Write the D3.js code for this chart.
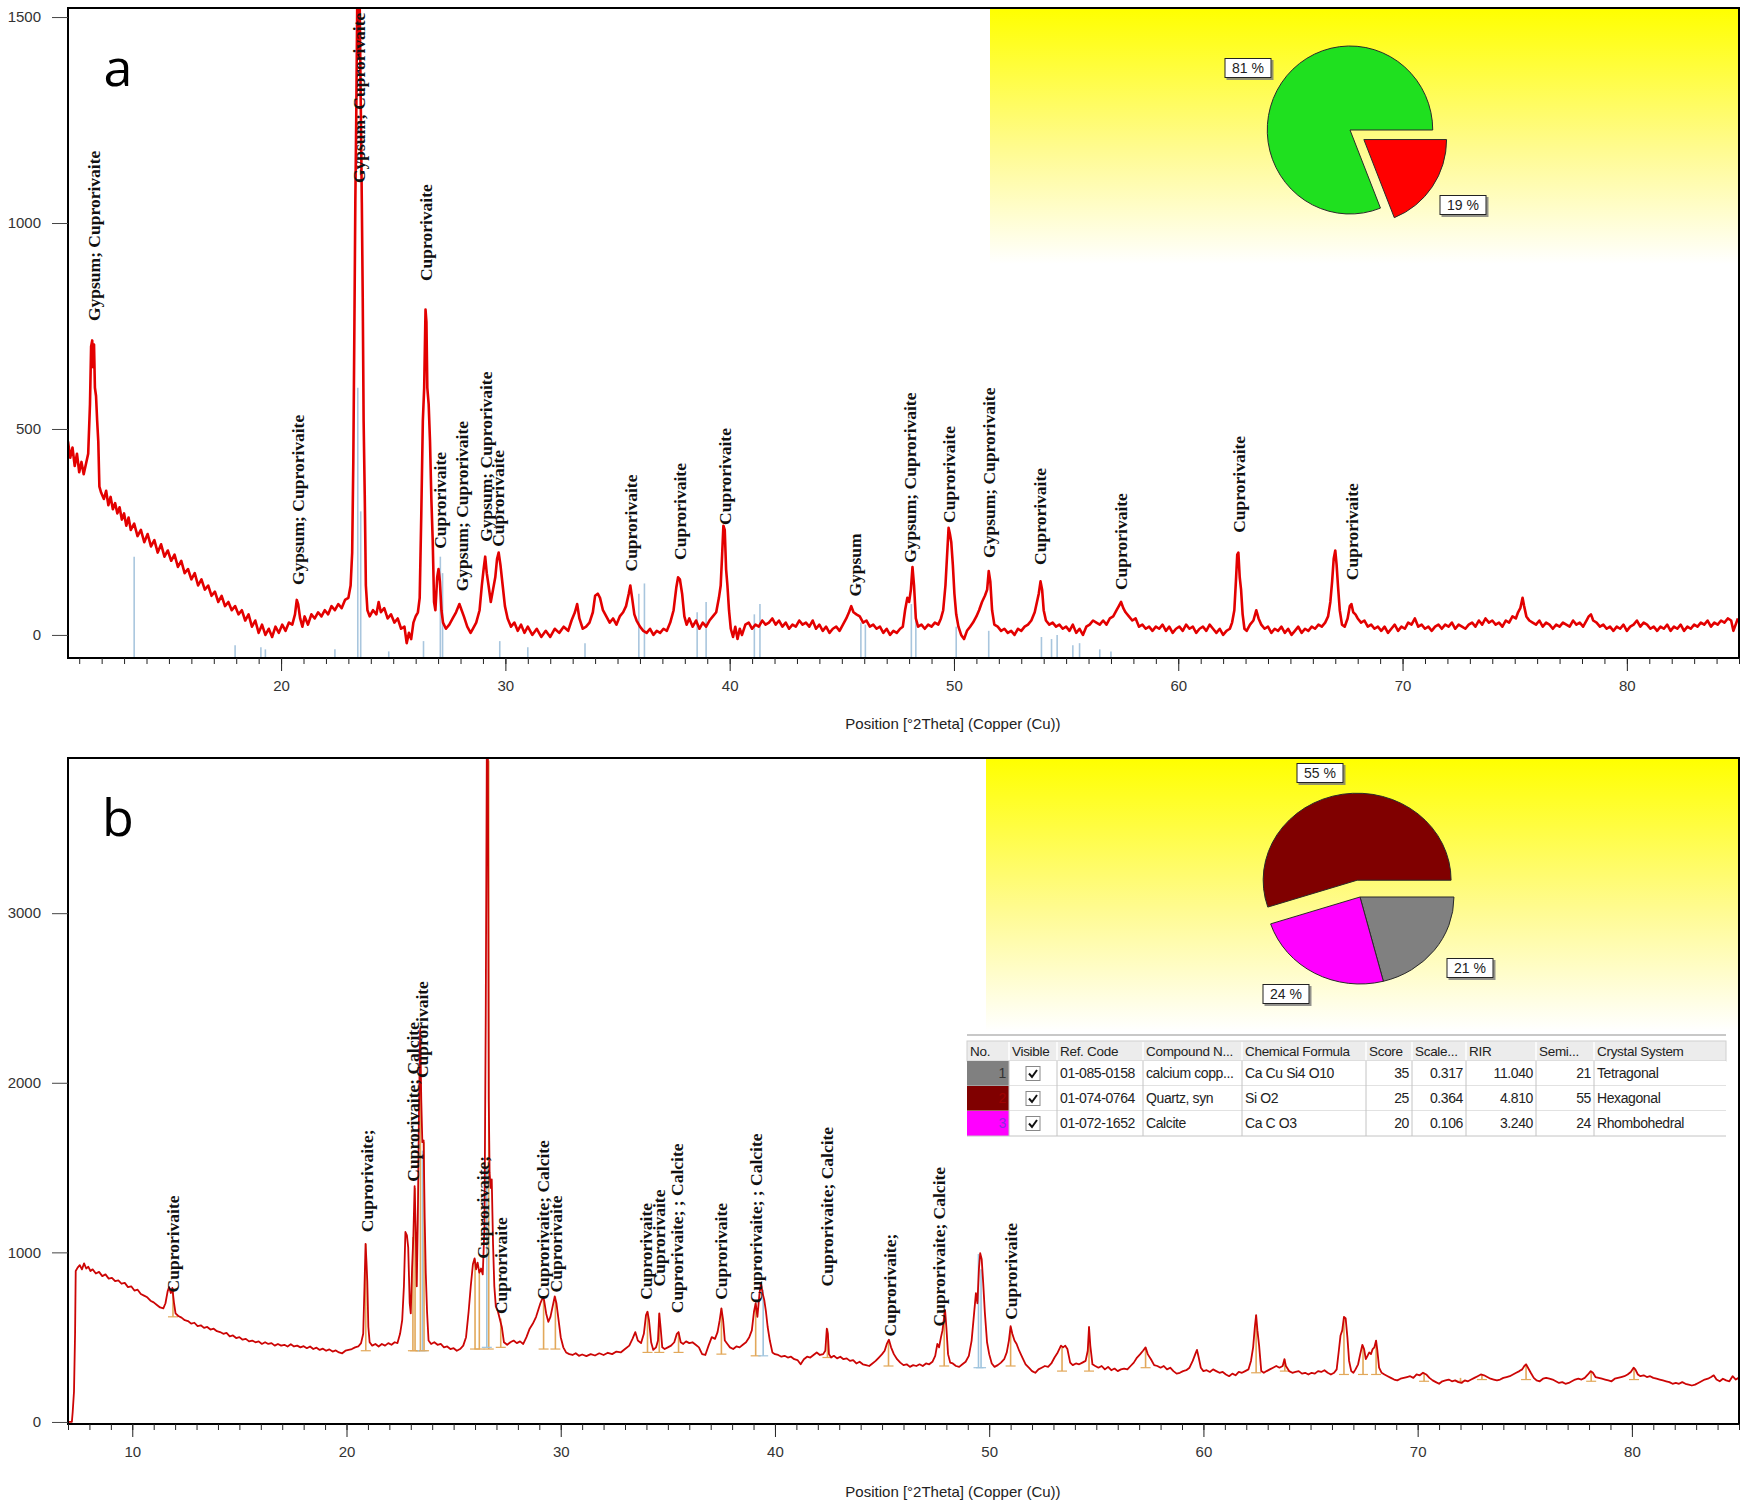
<!DOCTYPE html>
<html>
<head>
<meta charset="utf-8">
<script src="https://cdn.jsdelivr.net/npm/d3@7"></script>
<style>
  body { margin: 0; background: #fff; }
  text { font-family: "Liberation Sans", Arial, sans-serif; }
</style>
</head>
<body>
<svg id="chart"></svg>
<script>
// ---- data ----

// panel a : [2theta, counts]
var scanA = [
[10.50,470],[10.60,430],[10.70,455],[10.80,410],[10.90,440],[11.00,395],[11.10,420],[11.20,390],[11.30,415],[11.40,440],[11.48,560],[11.53,700],[11.58,715],[11.62,650],[11.66,705],[11.70,600],[11.75,580],[11.80,520],[11.85,470],[11.90,360],[11.98,345],[12.10,330],[12.20,350],[12.30,315],[12.40,335],[12.50,305],[12.60,320],[12.70,295],[12.80,310],[12.90,280],[13.00,295],[13.10,265],[13.20,285],[13.30,255],[13.45,270],[13.60,240],[13.75,255],[13.90,225],[14.05,245],[14.20,215],[14.35,230],[14.50,200],[14.65,220],[14.80,190],[14.95,205],[15.10,180],[15.25,195],[15.40,165],[15.55,180],[15.70,150],[15.85,160],[16.00,135],[16.15,150],[16.30,120],[16.45,135],[16.60,110],[16.75,120],[16.90,95],[17.05,105],[17.20,80],[17.35,95],[17.50,70],[17.65,80],[17.80,60],[17.95,70],[18.10,50],[18.25,60],[18.40,35],[18.55,50],[18.70,20],[18.85,35],[19.00,5],[19.15,25],[19.30,0],[19.45,15],[19.60,-5],[19.75,20],[19.90,5],[20.05,25],[20.20,10],[20.35,30],[20.50,25],[20.62,50],[20.70,85],[20.76,75],[20.85,40],[20.95,20],[21.05,45],[21.20,25],[21.35,50],[21.50,40],[21.65,55],[21.80,45],[21.95,60],[22.10,50],[22.25,70],[22.40,60],[22.55,75],[22.70,65],[22.85,85],[23.00,90],[23.10,120],[23.17,200],[23.22,420],[23.27,760],[23.31,1050],[23.35,1250],[23.40,1560],[23.45,1400],[23.50,1560],[23.55,1300],[23.60,1050],[23.64,820],[23.68,520],[23.73,340],[23.78,120],[23.85,60],[23.95,45],[24.10,60],[24.25,50],[24.35,80],[24.45,55],[24.60,65],[24.75,40],[24.90,50],[25.05,30],[25.20,40],[25.35,15],[25.50,20],[25.60,-20],[25.70,5],[25.80,-10],[25.90,30],[26.00,45],[26.10,55],[26.18,90],[26.25,290],[26.32,520],[26.38,600],[26.44,790],[26.48,760],[26.52,600],[26.58,560],[26.64,470],[26.70,330],[26.76,230],[26.82,80],[26.88,60],[26.96,140],[27.02,160],[27.08,130],[27.15,60],[27.22,30],[27.35,15],[27.50,25],[27.65,40],[27.80,55],[27.95,75],[28.05,60],[28.15,45],[28.30,20],[28.45,5],[28.55,15],[28.70,30],[28.85,60],[28.95,120],[29.03,160],[29.10,190],[29.17,150],[29.25,120],[29.35,80],[29.45,110],[29.55,140],[29.63,185],[29.70,200],[29.78,170],[29.88,120],[29.98,70],[30.10,40],[30.25,20],[30.40,30],[30.55,10],[30.70,25],[30.85,5],[31.00,20],[31.20,0],[31.40,15],[31.60,-5],[31.80,10],[32.00,-5],[32.20,15],[32.40,5],[32.60,20],[32.80,10],[32.95,35],[33.10,55],[33.20,75],[33.30,40],[33.45,15],[33.60,20],[33.75,30],[33.90,55],[34.00,95],[34.12,100],[34.22,90],[34.35,60],[34.50,45],[34.65,30],[34.80,40],[34.95,25],[35.10,45],[35.25,55],[35.38,70],[35.50,100],[35.57,120],[35.65,90],[35.75,50],[35.85,35],[36.00,20],[36.15,10],[36.30,5],[36.45,15],[36.60,0],[36.75,10],[36.90,5],[37.05,15],[37.20,10],[37.35,30],[37.50,60],[37.62,115],[37.70,140],[37.78,135],[37.88,100],[37.98,45],[38.08,25],[38.20,40],[38.35,20],[38.50,35],[38.65,15],[38.80,30],[38.95,20],[39.10,35],[39.25,45],[39.40,55],[39.52,90],[39.60,120],[39.66,190],[39.72,265],[39.78,255],[39.84,160],[39.90,120],[39.97,60],[40.05,15],[40.15,-5],[40.25,20],[40.35,-10],[40.45,15],[40.55,0],[40.70,25],[40.85,30],[41.00,15],[41.15,25],[41.30,20],[41.45,35],[41.60,25],[41.75,30],[41.90,40],[42.05,25],[42.20,35],[42.35,20],[42.50,30],[42.65,15],[42.80,25],[42.95,20],[43.10,35],[43.25,25],[43.40,30],[43.55,20],[43.70,35],[43.85,15],[44.00,25],[44.15,10],[44.30,20],[44.45,5],[44.60,15],[44.75,20],[44.90,10],[45.05,25],[45.20,40],[45.32,55],[45.42,70],[45.52,55],[45.65,50],[45.80,45],[45.95,30],[46.10,35],[46.25,20],[46.40,25],[46.55,15],[46.70,20],[46.85,5],[47.00,15],[47.15,0],[47.30,10],[47.45,5],[47.60,15],[47.72,20],[47.82,60],[47.92,90],[48.00,80],[48.08,110],[48.15,165],[48.22,120],[48.30,40],[48.40,20],[48.55,25],[48.70,15],[48.85,25],[49.00,20],[49.15,30],[49.30,25],[49.42,40],[49.52,60],[49.62,120],[49.70,200],[49.76,260],[49.82,245],[49.88,225],[49.95,170],[50.02,100],[50.10,50],[50.20,20],[50.32,0],[50.45,-10],[50.58,10],[50.72,20],[50.85,30],[51.00,45],[51.12,60],[51.25,80],[51.38,95],[51.48,110],[51.55,155],[51.62,130],[51.70,60],[51.80,25],[51.95,20],[52.10,10],[52.25,15],[52.40,5],[52.55,10],[52.70,0],[52.85,15],[53.00,10],[53.15,20],[53.30,25],[53.45,35],[53.60,55],[53.70,80],[53.78,100],[53.86,130],[53.93,110],[54.00,60],[54.10,35],[54.25,25],[54.40,30],[54.55,20],[54.70,25],[54.85,15],[55.00,20],[55.15,10],[55.30,25],[55.45,5],[55.60,15],[55.75,0],[55.90,20],[56.05,25],[56.20,35],[56.35,30],[56.50,25],[56.65,35],[56.80,25],[56.95,40],[57.10,45],[57.25,60],[57.35,70],[57.45,80],[57.55,65],[57.65,55],[57.80,45],[57.95,35],[58.10,40],[58.25,20],[58.40,25],[58.55,15],[58.70,20],[58.85,10],[59.00,20],[59.15,15],[59.30,25],[59.45,10],[59.60,20],[59.75,5],[59.90,15],[60.05,20],[60.20,10],[60.35,25],[60.50,15],[60.65,20],[60.80,5],[60.95,15],[61.10,20],[61.25,10],[61.40,25],[61.55,15],[61.70,5],[61.85,15],[62.00,0],[62.15,10],[62.30,15],[62.40,30],[62.50,60],[62.57,130],[62.63,195],[62.68,200],[62.74,140],[62.80,110],[62.87,50],[62.95,15],[63.05,10],[63.20,25],[63.35,35],[63.48,60],[63.58,40],[63.70,25],[63.85,15],[64.00,20],[64.15,5],[64.30,15],[64.45,10],[64.60,20],[64.75,5],[64.90,15],[65.05,0],[65.20,10],[65.35,20],[65.50,5],[65.65,15],[65.80,10],[65.95,20],[66.10,15],[66.25,25],[66.40,20],[66.55,30],[66.68,45],[66.78,80],[66.86,130],[66.93,185],[67.00,205],[67.06,170],[67.12,120],[67.20,60],[67.30,25],[67.42,20],[67.55,40],[67.65,70],[67.72,75],[67.80,55],[67.90,50],[68.00,40],[68.15,30],[68.30,35],[68.45,20],[68.60,25],[68.75,15],[68.90,20],[69.05,10],[69.20,20],[69.35,5],[69.50,15],[69.65,25],[69.80,10],[69.95,20],[70.10,15],[70.25,30],[70.40,25],[70.55,40],[70.70,20],[70.85,25],[71.00,15],[71.15,20],[71.30,10],[71.45,20],[71.60,25],[71.75,15],[71.90,25],[72.05,20],[72.20,30],[72.35,15],[72.50,25],[72.65,20],[72.80,15],[72.95,25],[73.10,30],[73.25,20],[73.40,35],[73.55,25],[73.70,40],[73.85,30],[74.00,35],[74.15,25],[74.30,30],[74.45,20],[74.60,35],[74.75,30],[74.90,45],[75.05,40],[75.15,55],[75.25,65],[75.35,90],[75.42,70],[75.52,45],[75.65,35],[75.80,30],[75.95,25],[76.10,35],[76.25,20],[76.40,30],[76.55,25],[76.70,15],[76.85,25],[77.00,20],[77.15,30],[77.30,25],[77.45,20],[77.60,35],[77.75,25],[77.90,30],[78.05,20],[78.20,35],[78.30,45],[78.40,50],[78.50,35],[78.65,30],[78.80,20],[78.95,25],[79.10,15],[79.25,20],[79.40,10],[79.55,20],[79.70,15],[79.85,25],[80.00,10],[80.15,20],[80.30,25],[80.45,35],[80.60,20],[80.75,30],[80.90,25],[81.05,15],[81.20,20],[81.35,10],[81.50,20],[81.65,15],[81.80,25],[81.95,10],[82.10,20],[82.25,15],[82.40,25],[82.55,10],[82.70,20],[82.85,15],[83.00,25],[83.15,20],[83.30,30],[83.45,25],[83.60,35],[83.75,20],[83.90,30],[84.05,25],[84.20,35],[84.35,30],[84.50,40],[84.65,35],[84.75,10],[84.85,25],[84.95,40]
];

// panel a : reference sticks [2theta, top counts]
var sticksA = [
[13.45,190],[17.95,-25],[19.10,-30],[19.30,-35],[22.40,-35],[23.42,600],[23.55,300],[24.80,-40],[26.35,-15],
[27.10,190],[27.20,150],[29.75,-15],[31.00,-30],[33.55,-20],[35.95,100],[36.20,125],[38.55,55],[38.95,80],
[41.10,50],[41.35,75],[45.85,30],[46.05,25],[48.10,75],[48.30,40],[50.10,20],[51.55,10],[53.90,-5],
[54.35,-10],[54.60,0],[55.30,-25],[55.60,-20],[56.50,-35],[57.00,-40]
];

// panel a : peak labels [2theta, counts at label foot, text]
var labelsA = [
[11.66,762,"Gypsum; Cuprorivaite"],[20.75,121,"Gypsum; Cuprorivaite"],[23.47,1097,"Gypsum; Cuprorivaite"],
[26.49,859,"Cuprorivaite"],[27.09,209,"Cuprorivaite"],[28.06,106,"Gypsum; Cuprorivaite"],
[29.13,226,"Gypsum; Cuprorivaite"],[29.70,214,"Cuprorivaite"],[35.60,154,"Cuprorivaite"],
[37.80,182,"Cuprorivaite"],[39.78,267,"Cuprorivaite"],[45.60,93,"Gypsum"],
[48.03,175,"Gypsum; Cuprorivaite"],[49.78,272,"Cuprorivaite"],[51.58,187,"Gypsum; Cuprorivaite"],
[53.86,170,"Cuprorivaite"],[57.45,109,"Cuprorivaite"],[62.70,248,"Cuprorivaite"],[67.76,133,"Cuprorivaite"]
];

// panel b : [2theta, counts]
var scanB = [
[7.00,0],[7.10,0],[7.18,0],[7.22,60],[7.28,180],[7.33,520],[7.36,890],[7.45,910],[7.55,925],[7.65,900],[7.75,935],[7.85,905],[7.95,915],[8.05,890],[8.15,900],[8.30,875],[8.45,885],[8.60,860],[8.75,870],[8.90,845],[9.05,850],[9.20,830],[9.35,835],[9.50,815],[9.65,820],[9.80,795],[9.95,800],[10.10,775],[10.25,780],[10.40,755],[10.55,745],[10.70,735],[10.85,715],[11.00,705],[11.15,690],[11.30,675],[11.45,670],[11.55,700],[11.65,770],[11.72,795],[11.80,760],[11.87,790],[11.95,700],[12.02,640],[12.15,625],[12.30,615],[12.45,600],[12.60,595],[12.75,580],[12.90,585],[13.05,565],[13.20,570],[13.35,555],[13.50,560],[13.65,545],[13.80,550],[13.95,535],[14.10,530],[14.25,520],[14.40,525],[14.55,505],[14.70,510],[14.85,495],[15.00,500],[15.15,485],[15.30,490],[15.45,475],[15.60,480],[15.75,470],[15.90,475],[16.05,460],[16.20,470],[16.35,460],[16.50,465],[16.65,450],[16.80,460],[16.95,450],[17.10,455],[17.25,445],[17.40,458],[17.55,445],[17.70,450],[17.85,440],[18.00,447],[18.15,435],[18.30,445],[18.45,430],[18.60,438],[18.75,425],[18.90,432],[19.05,420],[19.20,428],[19.35,415],[19.50,422],[19.65,410],[19.80,405],[19.95,420],[20.10,425],[20.25,430],[20.40,440],[20.55,445],[20.68,465],[20.78,520],[20.84,800],[20.89,1050],[20.93,950],[20.97,830],[21.02,560],[21.08,470],[21.20,450],[21.35,460],[21.50,445],[21.65,460],[21.80,450],[21.95,465],[22.10,455],[22.25,470],[22.38,465],[22.50,520],[22.60,600],[22.68,800],[22.75,1120],[22.82,1100],[22.88,1030],[22.95,700],[23.00,640],[23.06,900],[23.12,1090],[23.18,1390],[23.23,1150],[23.28,800],[23.33,1200],[23.38,1800],[23.44,2320],[23.49,1900],[23.54,1650],[23.60,1660],[23.65,1200],[23.70,880],[23.76,650],[23.83,480],[23.95,460],[24.10,470],[24.25,455],[24.40,460],[24.55,440],[24.70,445],[24.85,430],[25.00,435],[25.15,420],[25.30,430],[25.45,450],[25.58,500],[25.70,650],[25.80,800],[25.90,930],[25.98,965],[26.05,900],[26.12,940],[26.20,880],[26.28,905],[26.36,870],[26.44,1150],[26.50,2400],[26.55,3960],[26.60,3960],[26.64,1900],[26.68,1470],[26.73,1380],[26.78,1430],[26.84,1050],[26.90,800],[26.97,680],[27.05,660],[27.15,610],[27.25,560],[27.35,470],[27.50,455],[27.65,470],[27.80,480],[27.95,465],[28.10,475],[28.25,460],[28.40,500],[28.55,550],[28.70,580],[28.85,620],[28.95,660],[29.05,700],[29.15,730],[29.22,720],[29.32,640],[29.42,590],[29.52,620],[29.62,680],[29.72,740],[29.80,700],[29.90,600],[30.00,500],[30.12,440],[30.25,410],[30.40,400],[30.55,395],[30.70,405],[30.85,390],[31.00,398],[31.20,388],[31.40,400],[31.60,392],[31.80,405],[32.00,395],[32.20,408],[32.40,400],[32.60,415],[32.80,410],[33.00,430],[33.20,450],[33.35,490],[33.48,530],[33.60,480],[33.75,465],[33.88,520],[33.98,630],[34.05,650],[34.12,600],[34.22,470],[34.32,425],[34.45,440],[34.54,480],[34.60,640],[34.66,560],[34.74,440],[34.85,430],[35.00,440],[35.15,450],[35.30,470],[35.42,520],[35.50,530],[35.60,470],[35.72,460],[35.85,475],[36.00,465],[36.15,470],[36.30,455],[36.45,440],[36.60,400],[36.75,395],[36.90,450],[37.05,500],[37.20,490],[37.32,530],[37.42,600],[37.50,670],[37.58,600],[37.66,480],[37.78,460],[37.90,440],[38.05,430],[38.20,445],[38.35,440],[38.50,455],[38.65,470],[38.80,500],[38.92,540],[39.02,650],[39.10,700],[39.18,620],[39.28,760],[39.35,820],[39.42,760],[39.50,720],[39.58,650],[39.66,560],[39.76,480],[39.88,410],[40.00,400],[40.15,395],[40.30,385],[40.45,390],[40.60,380],[40.75,385],[40.90,370],[41.05,365],[41.20,340],[41.35,370],[41.50,385],[41.65,380],[41.80,395],[41.95,410],[42.10,395],[42.25,400],[42.35,420],[42.42,550],[42.47,520],[42.52,400],[42.62,380],[42.75,390],[42.90,375],[43.05,385],[43.20,370],[43.35,375],[43.50,360],[43.65,365],[43.80,345],[43.95,355],[44.10,340],[44.25,335],[44.40,330],[44.55,345],[44.70,360],[44.85,380],[45.00,400],[45.12,420],[45.22,460],[45.32,485],[45.42,440],[45.55,400],[45.70,370],[45.85,350],[46.00,335],[46.15,340],[46.30,325],[46.45,335],[46.60,330],[46.75,340],[46.90,330],[47.05,345],[47.20,340],[47.35,355],[47.48,390],[47.58,460],[47.66,440],[47.75,500],[47.82,540],[47.88,600],[47.94,660],[48.00,560],[48.08,400],[48.18,350],[48.30,345],[48.45,330],[48.60,325],[48.75,340],[48.90,355],[49.05,390],[49.18,480],[49.28,620],[49.38,760],[49.45,700],[49.52,900],[49.58,995],[49.65,960],[49.72,820],[49.80,640],[49.90,470],[50.00,400],[50.12,345],[50.25,325],[50.40,335],[50.55,350],[50.70,370],[50.82,410],[50.92,480],[51.00,565],[51.08,520],[51.18,480],[51.28,460],[51.40,420],[51.55,380],[51.70,340],[51.85,320],[52.00,300],[52.15,290],[52.30,310],[52.45,320],[52.60,330],[52.75,325],[52.90,345],[53.05,380],[53.20,410],[53.35,450],[53.45,440],[53.55,450],[53.65,430],[53.78,350],[53.90,335],[54.05,345],[54.20,340],[54.35,350],[54.50,360],[54.60,420],[54.66,560],[54.72,450],[54.82,340],[54.95,330],[55.10,320],[55.25,330],[55.40,310],[55.55,325],[55.70,305],[55.85,315],[56.00,300],[56.15,310],[56.30,315],[56.45,310],[56.60,330],[56.75,350],[56.90,380],[57.05,400],[57.18,420],[57.30,440],[57.40,400],[57.55,370],[57.70,335],[57.85,330],[58.00,320],[58.15,330],[58.30,310],[58.45,320],[58.60,300],[58.75,285],[58.90,290],[59.05,300],[59.20,305],[59.35,320],[59.50,360],[59.62,400],[59.70,425],[59.78,380],[59.88,320],[60.00,300],[60.15,305],[60.30,295],[60.45,310],[60.60,300],[60.75,290],[60.90,295],[61.05,280],[61.20,270],[61.35,285],[61.50,275],[61.65,295],[61.80,290],[61.95,300],[62.10,310],[62.22,360],[62.32,440],[62.40,560],[62.46,630],[62.52,540],[62.60,450],[62.70,300],[62.82,290],[62.95,300],[63.10,310],[63.25,320],[63.40,330],[63.55,320],[63.70,330],[63.78,370],[63.85,330],[64.00,300],[64.15,290],[64.30,295],[64.45,300],[64.60,285],[64.75,290],[64.90,280],[65.05,290],[65.20,285],[65.35,300],[65.50,295],[65.65,305],[65.80,290],[65.95,280],[66.10,290],[66.22,310],[66.32,420],[66.40,510],[66.48,540],[66.56,620],[66.64,610],[66.72,500],[66.80,360],[66.90,300],[67.00,290],[67.10,310],[67.22,340],[67.32,400],[67.42,455],[67.50,430],[67.58,370],[67.66,390],[67.74,410],[67.82,400],[67.90,430],[67.98,440],[68.06,480],[68.12,420],[68.20,320],[68.32,290],[68.45,280],[68.60,270],[68.75,260],[68.90,250],[69.05,245],[69.20,255],[69.35,260],[69.50,265],[69.65,270],[69.80,260],[69.95,280],[70.10,275],[70.25,290],[70.40,280],[70.55,260],[70.70,245],[70.85,235],[71.00,225],[71.15,240],[71.30,245],[71.45,250],[71.60,240],[71.75,245],[71.90,235],[72.05,230],[72.20,245],[72.35,240],[72.50,250],[72.65,260],[72.80,270],[72.95,280],[73.10,275],[73.25,265],[73.40,255],[73.55,250],[73.70,245],[73.85,250],[74.00,260],[74.15,265],[74.30,270],[74.45,280],[74.60,290],[74.75,300],[74.88,310],[74.98,330],[75.06,340],[75.15,320],[75.28,290],[75.42,260],[75.55,245],[75.70,240],[75.85,255],[76.00,260],[76.15,255],[76.30,250],[76.45,240],[76.60,230],[76.75,235],[76.90,225],[77.05,230],[77.20,240],[77.35,250],[77.50,255],[77.65,250],[77.80,260],[77.95,280],[78.08,300],[78.18,290],[78.30,265],[78.45,260],[78.60,255],[78.75,250],[78.90,245],[79.05,240],[79.20,255],[79.35,260],[79.50,265],[79.65,270],[79.80,280],[79.95,295],[80.08,320],[80.16,310],[80.28,280],[80.40,270],[80.55,275],[80.70,265],[80.85,270],[81.00,260],[81.15,255],[81.30,250],[81.45,245],[81.60,240],[81.75,235],[81.90,225],[82.05,230],[82.20,225],[82.35,235],[82.50,225],[82.65,220],[82.80,215],[82.95,220],[83.10,230],[83.25,240],[83.40,250],[83.55,255],[83.70,265],[83.82,275],[83.95,250],[84.10,240],[84.25,255],[84.40,245],[84.55,240],[84.70,270],[84.85,250],[84.98,260]
];

// panel b : peak markers [2theta, base counts, top counts, kind] kind 0 = peak list, 1 = reference
var sticksB = [
[11.90,620,790,0],[20.90,420,1050,0],[23.10,420,1090,0],[23.20,420,1380,0],[23.45,420,2300,0],[23.55,420,1600,1],
[23.62,420,1650,0],[26.00,430,960,0],[26.20,430,900,0],[26.55,440,1500,1],[26.64,430,3900,0],[27.20,440,610,0],
[29.20,430,730,0],[29.75,430,740,0],[34.05,410,650,0],[34.60,410,640,0],[35.50,410,530,0],[37.50,400,670,0],
[39.10,390,700,0],[39.45,390,780,1],[42.45,380,550,0],[45.30,330,480,0],[47.90,330,650,0],[49.50,320,990,1],
[49.62,320,900,1],[51.00,330,560,0],[53.40,300,440,0],[54.66,300,560,0],[57.30,320,430,0],[62.46,290,630,0],
[63.80,300,370,0],[66.56,280,620,0],[67.45,280,450,0],[68.06,280,480,0],[70.30,240,290,0],[72.00,240,260,0],
[73.00,250,280,0],[75.06,250,340,0],[78.10,240,300,0],[80.10,250,320,0]
];

// panel b : peak labels [2theta, counts at label foot, text]
var labelsB = [
[11.92,764,"Cuprorivaite"],[20.96,1119,"Cuprorivaite;"],[23.12,1417,"Cuprorivaite; Calcite"],
[23.54,2028,"Cuprorivaite"],[26.36,963,"Cuprorivaite;"],[27.20,636,"Cuprorivaite"],
[29.18,721,"Cuprorivaite; Calcite"],[29.81,764,"Cuprorivaite"],[34.00,720,"Cuprorivaite"],
[34.62,799,"Cuprorivaite"],[35.45,641,"Cuprorivaite; ; Calcite"],[37.50,720,"Cuprorivaite"],
[39.13,700,"Cuprorivaite; ; Calcite"],[42.44,799,"Cuprorivaite; Calcite"],[45.40,504,"Cuprorivaite;"],
[47.66,563,"Cuprorivaite; Calcite"],[51.04,602,"Cuprorivaite"]
];

// axes
var majorTicksA = [20, 30, 40, 50, 60, 70, 80];
var majorTicksB = [10, 20, 30, 40, 50, 60, 70, 80];
var yTicksA = [0, 500, 1000, 1500];
var yTicksB = [0, 1000, 2000, 3000];
var xTitle = "Position [\u00b02Theta] (Copper (Cu))";

// phase fractions (pie a) in drawing order from 3 o'clock
var pieAValues = [19, 81];
var pieAColors = ["#ff0000", "#1fe01f"];
var pieALabels = ["19 %", "81 %"];

// identified phases (table + pie b)
var phaseNo = [1, 2, 3];
var phaseColors = ["#808080", "#800000", "#ff00ff"];
var phaseNoColors = ["#333333", "#a00000", "#8a2be2"];
var refCodes = ["01-085-0158", "01-074-0764", "01-072-1652"];
var compounds = ["calcium copp...", "Quartz, syn", "Calcite"];
var formulas = ["Ca Cu Si4 O10", "Si O2", "Ca C O3"];
var scores = [35, 25, 20];
var scaleFactors = ["0.317", "0.364", "0.106"];
var rirs = ["11.040", "4.810", "3.240"];
var semiQuant = [21, 55, 24];
var crystalSystems = ["Tetragonal", "Hexagonal", "Rhombohedral"];
var tableHeaders = ["No.", "Visible", "Ref. Code", "Compound N...", "Chemical Formula", "Score", "Scale...", "RIR", "Semi...", "Crystal System"];
var pieBOrder = [0, 2, 1];   // grey, magenta, brown clockwise from 3 o'clock

// ---- drawing ----
var W = 1748, H = 1502;
var svg = d3.select('#chart').attr('width', W).attr('height', H);
var defs = svg.append('defs');

var grad = defs.append('linearGradient').attr('id', 'yel')
  .attr('x1', 0).attr('y1', 0).attr('x2', 0).attr('y2', 1);
grad.append('stop').attr('offset', '0%').attr('stop-color', '#ffff00');
grad.append('stop').attr('offset', '55%').attr('stop-color', '#fffb90');
grad.append('stop').attr('offset', '100%').attr('stop-color', '#ffffff');

var shadow = defs.append('filter').attr('id', 'shd').attr('x', '-10%').attr('y', '-10%').attr('width', '130%').attr('height', '140%');
shadow.append('feDropShadow').attr('dx', 2).attr('dy', 2).attr('stdDeviation', 0.6).attr('flood-color', '#777').attr('flood-opacity', 0.8);

function drawPanel(p) {
  var g = svg.append('g');
  var x = d3.scaleLinear().domain(p.xDomain).range([p.left, p.right]);
  var y = d3.scaleLinear().domain(p.yDomain).range([p.bottom, p.top]);

  defs.append('clipPath').attr('id', p.id + 'clip').append('rect')
    .attr('x', p.left).attr('y', p.top).attr('width', p.right - p.left).attr('height', p.bottom - p.top);

  // yellow search-match box
  g.append('rect').attr('x', p.boxX).attr('y', p.top + 1)
    .attr('width', p.right - p.boxX - 1).attr('height', p.boxH)
    .attr('fill', 'url(#yel)');

  var plot = g.append('g').attr('clip-path', 'url(#' + p.id + 'clip)');
  p.drawSticks(plot, x, y);

  var line = d3.line().x(function(d) { return x(d[0]); }).y(function(d) { return y(d[1]); });
  plot.append('path').datum(p.scan).attr('d', line)
    .attr('fill', 'none').attr('stroke', p.lineColor).attr('stroke-width', p.lineWidth)
    .attr('stroke-linejoin', 'round');

  // peak labels
  plot.selectAll('text.pk').data(p.labels).enter().append('text')
    .attr('class', 'pk')
    .attr('transform', function(d) { return 'translate(' + x(d[0]) + ',' + y(d[1]) + ') rotate(-90)'; })
    .attr('dy', '0.33em')
    .style('font-family', '"Liberation Serif", "Times New Roman", serif')
    .style('font-weight', 'bold').style('font-size', '17.5px').attr('fill', '#111')
    .text(function(d) { return d[2]; });

  // frame
  g.append('rect').attr('x', p.left).attr('y', p.top)
    .attr('width', p.right - p.left).attr('height', p.bottom - p.top)
    .attr('fill', 'none').attr('stroke', '#000').attr('stroke-width', 2);

  // y axis
  var ya = g.append('g').attr('transform', 'translate(' + p.left + ',0)')
    .call(d3.axisLeft(y).tickValues(p.yTicks).tickFormat(d3.format('d')).tickSize(16).tickPadding(11));
  ya.select('.domain').remove();
  ya.selectAll('text').style('font-size', '15px').attr('fill', '#333');
  ya.selectAll('line').attr('stroke', '#444');

  // x axis: minor then major
  var minor = d3.range(Math.ceil(p.xDomain[0]), Math.floor(p.xDomain[1]) + 1);
  var xm = g.append('g').attr('transform', 'translate(0,' + p.bottom + ')')
    .call(d3.axisBottom(x).tickValues(minor).tickSize(6).tickFormat(''));
  xm.select('.domain').remove();
  xm.selectAll('line').attr('stroke', '#222');
  var xa = g.append('g').attr('transform', 'translate(0,' + p.bottom + ')')
    .call(d3.axisBottom(x).tickValues(p.xTicks).tickSize(13).tickPadding(9));
  xa.select('.domain').remove();
  xa.selectAll('line').attr('stroke', '#222');
  xa.selectAll('text').style('font-size', '15px').attr('fill', '#333');

  g.append('text').attr('x', p.titleX).attr('y', p.titleY)
    .attr('text-anchor', 'middle').style('font-size', '15px').attr('fill', '#222')
    .text(xTitle);

  g.append('text').attr('x', p.left + 50).attr('y', p.top + 78)
    .attr('text-anchor', 'middle')
    .style('font-family', '"Open Sans", "Liberation Sans", sans-serif')
    .style('font-size', '52px').attr('fill', '#000').text(p.letter);
  return { x: x, y: y };
}

function drawPie(cx, cy, r, sx, values, colors, explodeIndex, labels, labelPos) {
  var pie = d3.pie().sort(null).value(function(d) { return d; })
    .startAngle(Math.PI / 2).endAngle(Math.PI / 2 + 2 * Math.PI);
  var arc = d3.arc().innerRadius(0).outerRadius(r);
  var arcs = pie(values);
  var g = svg.append('g').attr('transform', 'translate(' + cx + ',' + cy + ') scale(' + sx + ',1)');
  g.selectAll('path').data(arcs).enter().append('path')
    .attr('d', arc)
    .attr('transform', function(d, i) {
      if (i !== explodeIndex) return null;
      var a = (d.startAngle + d.endAngle) / 2;
      return 'translate(' + (Math.sin(a) * 17) + ',' + (-Math.cos(a) * 17) + ')';
    })
    .attr('fill', function(d, i) { return colors[i]; })
    .attr('stroke', '#2a2a2a').attr('stroke-width', 1)
    .attr('vector-effect', 'non-scaling-stroke');

  labels.forEach(function(t, i) {
    var lx = cx + labelPos[i][0], ly = cy + labelPos[i][1];
    var lg = svg.append('g').attr('transform', 'translate(' + lx + ',' + ly + ')');
    lg.append('rect').attr('x', -23).attr('y', -9.5).attr('width', 46).attr('height', 19)
      .attr('fill', '#fff').attr('stroke', '#222').attr('stroke-width', 1).attr('filter', 'url(#shd)');
    lg.append('text').attr('text-anchor', 'middle').attr('dy', '0.35em')
      .style('font-size', '14px').attr('fill', '#222').text(t);
  });
}

function drawSticksA(plot, x, y) {
  plot.selectAll('line.st').data(sticksA).enter().append('line')
    .attr('x1', function(d) { return x(d[0]); }).attr('x2', function(d) { return x(d[0]); })
    .attr('y1', y(y.domain()[0])).attr('y2', function(d) { return y(d[1]); })
    .attr('stroke', '#a9c6de').attr('stroke-width', 1.6);
}

function drawSticksB(plot, x, y) {
  var colorOf = function(d) { return d[3] ? '#9fc4de' : '#e2a85a'; };
  plot.selectAll('line.st').data(sticksB).enter().append('line')
    .attr('x1', function(d) { return x(d[0]); }).attr('x2', function(d) { return x(d[0]); })
    .attr('y1', function(d) { return y(d[1]); }).attr('y2', function(d) { return y(d[2]); })
    .attr('stroke', colorOf).attr('stroke-width', 1.6);
  plot.selectAll('line.sb').data(sticksB).enter().append('line')
    .attr('x1', function(d) { return x(d[0]) - 5; }).attr('x2', function(d) { return x(d[0]) + 5; })
    .attr('y1', function(d) { return y(d[1]); }).attr('y2', function(d) { return y(d[1]); })
    .attr('stroke', colorOf).attr('stroke-width', 1.2);
}

drawPanel({
  id: 'a', letter: 'a', scan: scanA, labels: labelsA, drawSticks: drawSticksA,
  xDomain: [10.5, 85], yDomain: [-56, 1522], xTicks: majorTicksA, yTicks: yTicksA,
  left: 68, right: 1739, top: 8, bottom: 658, boxX: 990, boxH: 255,
  lineColor: '#e30000', lineWidth: 2.6, titleX: 953, titleY: 729
});

drawPanel({
  id: 'b', letter: 'b', scan: scanB, labels: labelsB, drawSticks: drawSticksB,
  xDomain: [7, 85], yDomain: [-12, 3915], xTicks: majorTicksB, yTicks: yTicksB,
  left: 68, right: 1739, top: 758, bottom: 1424, boxX: 986, boxH: 272,
  lineColor: '#cc0505', lineWidth: 1.8, titleX: 953, titleY: 1497
});

// pies
drawPie(1350, 130, 84, 0.985, pieAValues, pieAColors, 0, pieALabels,
  [[113, 75], [-102, -62]]);

var pieBValues = pieBOrder.map(function(i) { return semiQuant[i]; });
var pieBColors = pieBOrder.map(function(i) { return phaseColors[i]; });
var pieBLabels = pieBOrder.map(function(i) { return semiQuant[i] + ' %'; });
drawPie(1360, 897, 87, 1.08, pieBValues, pieBColors, 2, pieBLabels,
  [[110, 71], [-74, 97], [-40, -124]]);

// phase table
var colEdges = [967, 1009, 1057, 1143, 1242, 1366, 1412, 1466, 1536, 1594, 1726];
var headTop = 1041, headH = 20, rowH = 25;
var tg = svg.append('g');
tg.append('line').attr('x1', 967).attr('x2', 1726).attr('y1', 1035).attr('y2', 1035)
  .attr('stroke', '#c8c8c8').attr('stroke-width', 2);
tg.append('rect').attr('x', colEdges[0]).attr('y', headTop)
  .attr('width', colEdges[10] - colEdges[0]).attr('height', headH)
  .attr('fill', '#ececec').attr('stroke', '#d0d0d0');
tableHeaders.forEach(function(h, i) {
  tg.append('text').attr('x', colEdges[i] + 3).attr('y', headTop + headH / 2).attr('dy', '0.35em')
    .style('font-size', '13.5px').style('letter-spacing', '-0.3px').attr('fill', '#222').text(h);
  if (i > 0) tg.append('line').attr('x1', colEdges[i]).attr('x2', colEdges[i])
    .attr('y1', headTop + 1).attr('y2', headTop + headH - 1).attr('stroke', '#fff').attr('stroke-width', 1.5);
});

phaseNo.forEach(function(n, r) {
  var y0 = headTop + headH + r * rowH;
  tg.append('rect').attr('x', colEdges[1]).attr('y', y0)
    .attr('width', colEdges[10] - colEdges[1]).attr('height', rowH).attr('fill', '#fff');
  tg.append('rect').attr('x', colEdges[0]).attr('y', y0)
    .attr('width', colEdges[1] - colEdges[0]).attr('height', rowH).attr('fill', phaseColors[r]);
  tg.append('line').attr('x1', colEdges[0]).attr('x2', colEdges[10])
    .attr('y1', y0 + rowH).attr('y2', y0 + rowH).attr('stroke', '#c4c4c4');
  var cy = y0 + rowH / 2;
  var cells = [
    [n, 'end', phaseNoColors[r]], null, [refCodes[r], 'start'], [compounds[r], 'start'],
    [formulas[r], 'start'], [scores[r], 'end'], [scaleFactors[r], 'end'], [rirs[r], 'end'],
    [semiQuant[r], 'end'], [crystalSystems[r], 'start']
  ];
  cells.forEach(function(c, i) {
    if (!c) return;
    var tx = c[1] === 'end' ? colEdges[i + 1] - 3 : colEdges[i] + 3;
    tg.append('text').attr('x', tx).attr('y', cy).attr('dy', '0.35em')
      .attr('text-anchor', c[1]).style('font-size', '14px').style('letter-spacing', '-0.4px')
      .attr('fill', c[2] || '#222').text(c[0]);
  });
  var bx = (colEdges[1] + colEdges[2]) / 2;
  tg.append('rect').attr('x', bx - 7).attr('y', cy - 7).attr('width', 14).attr('height', 14)
    .attr('fill', '#fff').attr('stroke', '#888');
  tg.append('path').attr('d', 'M' + (bx - 4) + ',' + cy + ' l3,3.5 l5,-7')
    .attr('fill', 'none').attr('stroke', '#111').attr('stroke-width', 2);
});
for (var i = 1; i < colEdges.length - 1; i++) {
  tg.append('line').attr('x1', colEdges[i]).attr('x2', colEdges[i])
    .attr('y1', headTop + headH).attr('y2', headTop + headH + 3 * rowH)
    .attr('stroke', '#c4c4c4');
}
</script>
</body>
</html>
